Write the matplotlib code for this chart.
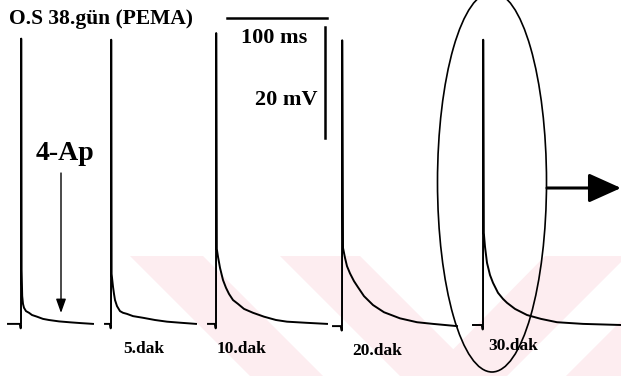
import matplotlib
matplotlib.use("Agg")
import matplotlib.pyplot as plt
import numpy as np
from matplotlib.patches import Ellipse, Polygon, FancyArrowPatch

# ---- data: recorded traces (time after spike in ms, voltage above rest in mV)
labels = ["", "5.dak", "10.dak", "20.dak", "30.dak"]
peak_mv = [51.4, 51.2, 52.4, 51.5, 51.4]
pre_ms = [-13, -6, -8, -9, -10]

decay_t1 = [0.6, 1.2, 2, 3, 5, 8, 11, 16, 22, 28, 38, 50, 60, 72]
decay_v1 = [9.7, 5.0, 3.6, 2.9, 2.3, 2.0, 1.6, 1.3, 0.9, 0.7, 0.45, 0.27, 0.14, 0.0]
decay_t2 = [0.6, 2, 3, 4, 6, 9, 12, 16, 22, 32, 44, 56, 70, 85]
decay_v2 = [9.0, 6.7, 5.4, 4.3, 3.2, 2.3, 2.0, 1.8, 1.4, 1.1, 0.7, 0.4, 0.2, 0.0]
decay_t3 = [0.8, 2, 4, 7, 10, 13, 17, 22, 28, 37, 48, 60, 71, 90, 111]
decay_v3 = [13.5, 12.1, 10.1, 7.9, 6.5, 5.4, 4.3, 3.6, 2.7, 2.0, 1.3, 0.7, 0.4, 0.2, 0.0]
decay_t4 = [1, 3, 5, 8, 12, 16, 22, 31, 42, 58, 75, 91, 115]
decay_v4 = [14.1, 12.3, 10.8, 9.5, 8.1, 7.0, 5.4, 3.8, 2.5, 1.4, 0.7, 0.4, 0.0]
decay_t5 = [0.8, 2, 4, 7, 10, 15, 20, 24, 32, 44, 58, 74, 100, 138]
decay_v5 = [16.6, 14.1, 11.2, 9.0, 7.6, 5.8, 4.7, 4.0, 2.9, 1.8, 1.1, 0.5, 0.2, 0.0]

SCALE_MS = 100
SCALE_MV = 20

# ---- layout (page units: 1 px = 1 ms, 5.55 px = 1 mV)
PX_PER_MV = 5.55
W, H = 621, 376
BASE_PX = 325
spike_x = [21, 111, 216, 342, 483]
base_off = [0.2, 0.2, 0.2, -0.2, 0.0]

fig = plt.figure(figsize=(6.21, 3.76), dpi=100)
bg = fig.add_axes([0, 0, 1, 1])
bg.set_xlim(0, W)
bg.set_ylim(H, 0)
bg.axis("off")

ax = fig.add_axes([0, 0, 1, 1])
ax.set_xlim(0, W)
ax.set_ylim(-(H - BASE_PX) / PX_PER_MV, BASE_PX / PX_PER_MV)
ax.axis("off")
ax.patch.set_alpha(0)

ov = fig.add_axes([0, 0, 1, 1])
ov.set_xlim(0, W)
ov.set_ylim(H, 0)
ov.axis("off")
ov.patch.set_alpha(0)

# faint watermark bands from the scanned page
wm = "#fdedf0"
for pts in [
    [(130, 256), (203, 256), (323, 376), (250, 376)],
    [(280, 256), (360, 256), (480, 376), (400, 376)],
    [(545, 256), (621, 256), (621, 262), (507, 376), (427, 376)],
    [(566, 376), (621, 321), (621, 376)],
]:
    bg.add_patch(Polygon(pts, closed=True, color=wm, lw=0))

decays = [(decay_t1, decay_v1), (decay_t2, decay_v2), (decay_t3, decay_v3),
          (decay_t4, decay_v4), (decay_t5, decay_v5)]
for i, (dt, dv) in enumerate(decays):
    t = [pre_ms[i], -1.2, -0.6, -0.3, 0.0, 0.2] + list(dt)
    v = [0.0, 0.0, -0.5, -0.8, 0.0, peak_mv[i]] + list(dv)
    x = spike_x[i] + np.array(t)
    y = base_off[i] + np.array(v)
    ax.plot(x, y, color="black", lw=1.4, solid_joinstyle="round")

# scale bars
sb_x, sb_y = 227, 55.3
ax.plot([sb_x, sb_x + SCALE_MS], [sb_y, sb_y], color="black", lw=1.8)
ax.plot([325, 325], [33.7, 33.7 + SCALE_MV], color="black", lw=1.8)

serif = ["Liberation Serif", "DejaVu Serif"]
ov.text(9, 24, "O.S 38.gün (PEMA)", fontsize=15.5, fontweight="bold", family=serif,
        va="baseline", ha="left")
ov.text(241, 43, f"{SCALE_MS} ms", fontsize=16, fontweight="bold", family=serif,
        va="baseline", ha="left")
ov.text(318, 105, f"{SCALE_MV} mV", fontsize=16, fontweight="bold", family=serif,
        va="baseline", ha="right")
ov.text(36, 160, "4-Ap", fontsize=20, fontweight="bold", family=serif,
        va="baseline", ha="left")

lab_pos = [None, (123, 353), (217, 353), (352, 355), (488, 350)]
for lab, pos in zip(labels, lab_pos):
    if pos is None:
        continue
    ov.text(pos[0], pos[1], lab, fontsize=12.5, fontweight="bold", family=serif,
            va="baseline", ha="left")

# 4-Ap arrow
ov.annotate("", xy=(61, 313), xytext=(61, 173),
            arrowprops=dict(arrowstyle="-|>,head_length=0.7,head_width=0.25",
                            color="black", lw=1.0, mutation_scale=12,
                            shrinkA=0, shrinkB=0))

# ellipse around last trace and outgoing arrow
ov.add_patch(Ellipse((492, 182), 109, 380, fill=False, ec="black", lw=1.2))
ov.add_patch(FancyArrowPatch((547, 188), (621, 188),
                             arrowstyle="-|>,head_length=1.0,head_width=0.45",
                             mutation_scale=20, color="black", lw=2.2,
                             shrinkA=0, shrinkB=0))

fig.savefig("out.png", dpi=100)
